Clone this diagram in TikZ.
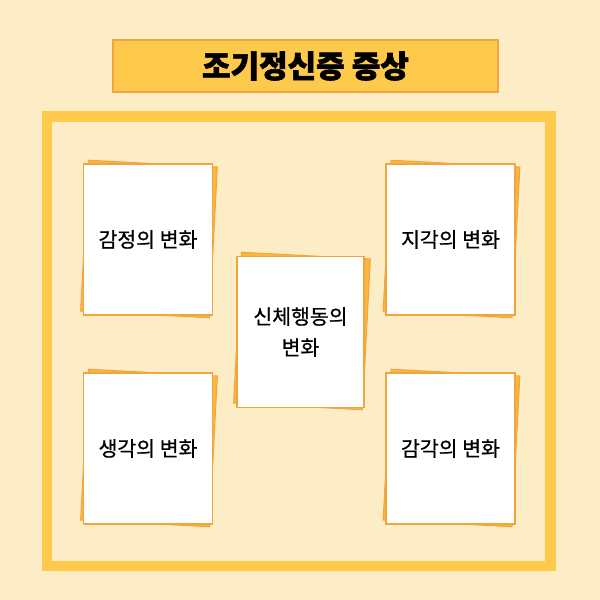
\documentclass[tikz,border=0pt]{standalone}
\usepackage{fontspec}
\newfontfamily\kr[FakeBold=0.7]{Noto Sans CJK KR}
\newfontfamily\krheavy[BoldFeatures={FakeBold=2}]{Noto Sans CJK KR}
\usetikzlibrary{positioning}
\definecolor{cream}{HTML}{FDEDC6}
\definecolor{frameyellow}{HTML}{FFC94B}
\definecolor{titleyellow}{HTML}{FFC94B}
\definecolor{cardedge}{HTML}{F2A53E}
\definecolor{backcard}{HTML}{FAB73E}

\begin{document}
\begin{tikzpicture}[x=1pt, y=-1pt,
  every node/.style={font=\kr\fontsize{20.5}{31}\selectfont, text=black},
  card/.style={draw=cardedge, line width=1.2pt, fill=white, minimum width=129pt, minimum height=151pt, inner sep=0pt, align=center},
  cardback/.style={draw=cardedge, line width=1pt, fill=backcard, minimum width=129pt, minimum height=151pt, inner sep=0pt, rotate=-3},
  titlebox/.style={draw=cardedge, line width=1.5pt, fill=titleyellow, minimum width=385pt, minimum height=52pt, font=\krheavy\bfseries\fontsize{31}{36}\selectfont}]

  \fill[cream] (0,0) rectangle (600,600);
  \useasboundingbox (0,0) rectangle (600,600);

  \node[titlebox] (title) at (305.5,66) {조기정신증 증상};
  \draw[frameyellow, line width=10.5pt] (47,116.5) rectangle (550.5,566);

  % back cards
  \node[cardback] (emotionback) at (149,239) {};
  \node[cardback] (thinkback) at (149,448) {};
  \node[cardback] (perceptback) at (451.5,239) {};
  \node[cardback] (senseback) at (451.5,448) {};
  \node[cardback] (behaviorback) at (302,331) {};

  % front cards
  \node[card] (emotion) at (148,239.5) {감정의 변화};
  \node[card] (think) at (148,448.5) {생각의 변화};
  \node[card] (percept) at (450.5,239.5) {지각의 변화};
  \node[card] (sense) at (450.5,448.5) {감각의 변화};
  \node[card, minimum width=127pt] (behavior) at (300.5,332) {신체행동의\\변화};

\end{tikzpicture}
\end{document}
